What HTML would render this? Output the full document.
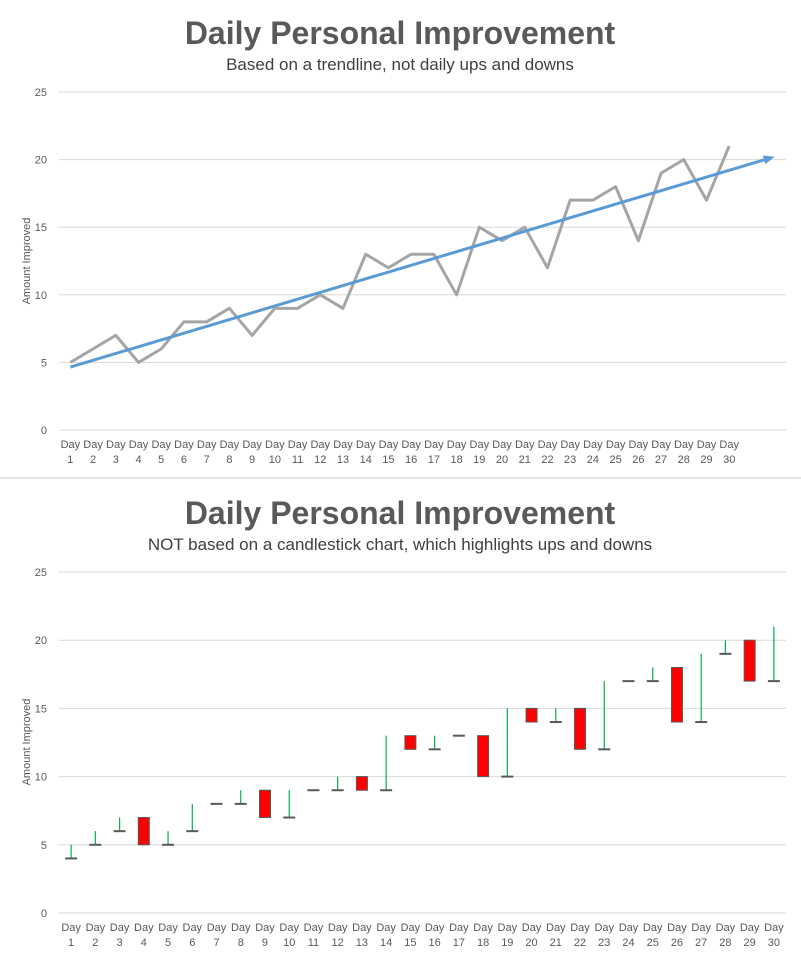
<!DOCTYPE html>
<html><head><meta charset="utf-8"><style>
body{margin:0;background:#fff;font-family:"Liberation Sans",sans-serif}
svg text{font-family:"Liberation Sans",sans-serif}
</style></head><body>
<svg id="s" width="801" height="959" xmlns="http://www.w3.org/2000/svg">
<text x="400" y="44" text-anchor="middle" font-size="32" font-weight="bold" fill="#595959">Daily Personal Improvement</text>
<text x="400" y="70" text-anchor="middle" font-size="17" fill="#404040">Based on a trendline, not daily ups and downs</text>
<text x="30" y="261" transform="rotate(-90 30 261)" text-anchor="middle" font-size="11" fill="#595959">Amount Improved</text>
<line x1="0" y1="478" x2="801" y2="478" stroke="#d9d9d9" stroke-width="1.5"/>
<text x="400" y="524" text-anchor="middle" font-size="32" font-weight="bold" fill="#595959">Daily Personal Improvement</text>
<text x="400" y="550" text-anchor="middle" font-size="17" fill="#404040">NOT based on a candlestick chart, which highlights ups and downs</text>
<text x="30" y="742" transform="rotate(-90 30 742)" text-anchor="middle" font-size="11" fill="#595959">Amount Improved</text>
<g id="g1"></g><g id="g2"></g>
</svg>
<script>
const days=[];for(let i=1;i<=30;i++)days.push(i);
const values=[5,6,7,5,6,8,8,9,7,9,9,10,9,13,12,13,13,10,15,14,15,12,17,17,18,14,19,20,17,21];
const yTicks=[0,5,10,15,20,25];
const opens=[4,5,6,7,5,6,8,8,9,7,9,9,10,9,13,12,13,13,10,15,14,15,12,17,17,18,14,19,20,17];
const closes=[4,5,6,5,5,6,8,8,7,7,9,9,9,9,12,12,13,10,10,14,14,12,12,17,17,14,14,19,17,17];
const highs=[5,6,7,7,6,8,8,9,9,9,9,10,10,13,13,13,13,13,15,15,15,15,17,17,18,18,19,20,20,21];
const lows=[4,5,6,5,5,6,8,8,7,7,9,9,9,9,12,12,13,10,10,14,14,12,12,17,17,14,14,19,17,17];
const NS="http://www.w3.org/2000/svg";
function mk(p,t,a){const e=document.createElementNS(NS,t);for(const k in a)e.setAttribute(k,a[k]);p.appendChild(e);return e;}
function axes(g,x0,x1,yTop,yBot,pre){
 const y=v=>yBot-(v/25)*(yBot-yTop);
 yTicks.forEach(t=>{const l=mk(g,'line',{x1:x0,x2:x1,y1:y(t),y2:y(t),stroke:'#d9d9d9','stroke-width':1});
 
 
 const tx=mk(g,'text',{x:47,y:y(t)+4,'text-anchor':'end','font-size':11,fill:'#595959'});tx.textContent=t;
 
 });
 return y;}
function xlabels(g,xf,yb,pre){days.forEach(d=>{const t=mk(g,'text',{'text-anchor':'middle','font-size':11,fill:'#595959'});
 
 
 const a=mk(t,'tspan',{x:xf(d),y:yb+18});a.textContent='Day';const b=mk(t,'tspan',{x:xf(d),y:yb+33});b.textContent=d;});}
// top chart
const g1=document.getElementById('g1');
const X0=59,X1=786,Y1T=92,Y1B=430;
const y1=axes(g1,X0,X1,Y1T,Y1B,'top-');
const x1=d=>X0+(d-0.5)*(X1-X0)/32;
xlabels(g1,x1,Y1B,'top-');
const line=mk(g1,'polyline',{points:values.map((v,i)=>x1(days[i])+','+y1(v)).join(' '),fill:'none',stroke:'#a5a5a5','stroke-width':3,'stroke-linejoin':'round'});


// regression
const n=values.length;let sx=0,sy=0,sxy=0,sxx=0;days.forEach((d,i)=>{sx+=d;sy+=values[i];sxy+=d*values[i];sxx+=d*d;});
const m=(n*sxy-sx*sy)/(n*sxx-sx*sx),c=(sy-m*sx)/n;
const xe=32.0;
const ax=x1(1),ay=y1(m+c),bx=x1(xe),by=y1(m*xe+c);
const ang=Math.atan2(by-ay,bx-ax);
const tl=mk(g1,'line',{x1:ax,y1:ay,x2:bx-8*Math.cos(ang),y2:by-8*Math.sin(ang),stroke:'#5b9bd5','stroke-width':3});


const p=(L,W)=>[bx-L*Math.cos(ang)+W*Math.sin(ang),by-L*Math.sin(ang)-W*Math.cos(ang)];
const a1=p(11,4.5),a2=p(11,-4.5);
const ah=mk(g1,'polygon',{points:`${bx},${by} ${a1} ${a2}`,fill:'#5b9bd5'});


// bottom chart
const g2=document.getElementById('g2');
const Y2T=572,Y2B=913;
const y2=axes(g2,X0,X1,Y2T,Y2B,'bottom-');
const x2=d=>X0+(d-0.5)*(X1-X0)/30;
xlabels(g2,x2,Y2B,'bottom-');
days.forEach((d,i)=>{const x=x2(d);
 const w=mk(g2,'line',{x1:x,x2:x,y1:y2(highs[i]),y2:y2(lows[i]),stroke:'#00b050','stroke-width':1.2});
 
 
 const o=opens[i],cl=closes[i];
 if(o===cl){const dsh=mk(g2,'line',{x1:x-6,x2:x+6,y1:y2(o),y2:y2(o),stroke:'#595959','stroke-width':2});
  
  }
 else{const r=mk(g2,'rect',{x:x-5.5,width:11,y:y2(Math.max(o,cl)),height:y2(Math.min(o,cl))-y2(Math.max(o,cl)),fill:o>cl?'#ff0000':'#ffffff',stroke:'#595959','stroke-width':1});
  
  }
});
</script>
</body></html>
